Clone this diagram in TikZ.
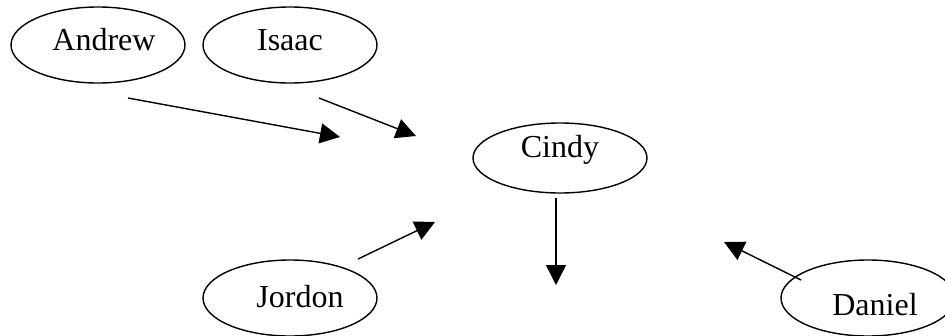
\documentclass[tikz,border=0pt]{standalone}
\usepackage{fontspec}
\setmainfont{Liberation Serif}
\usetikzlibrary{shapes.geometric,arrows.meta}
\begin{document}
\begin{tikzpicture}[x=1pt,y=-1pt,
  oval/.style={draw,ellipse,line width=1.4pt,minimum width=174pt,minimum height=76pt,inner sep=0pt},
  lbl/.style={anchor=base,inner sep=0pt,font=\fontsize{32}{36}\selectfont},
  arr/.style={line width=1.4pt,-{Triangle[length=20pt,width=20pt]}}]
\useasboundingbox (0,0) rectangle (945,335);
% ellipses
\node[oval] (andrew) at (98,45) {};
\node[oval] (isaac) at (290,45) {};
\node[oval,minimum height=70pt] (cindy) at (560,158) {};
\node[oval] (jordon) at (290,298) {};
\node[oval] (daniel) at (868,298) {};
% labels
\node[lbl] (tandrew) at (104,50) {Andrew};
\node[lbl] (tisaac) at (290,50) {Isaac};
\node[lbl] (tcindy) at (560,157) {Cindy};
\node[lbl] (tjordon) at (300,307) {Jordon};
\node[lbl] (tdaniel) at (875,315) {Daniel};
% arrow end points
\coordinate (a1) at (128,98);  \coordinate (a2) at (340,137);
\coordinate (i1) at (319,98);  \coordinate (i2) at (416,136);
\coordinate (j1) at (358,259); \coordinate (j2) at (435,222);
\coordinate (c1) at (556,198); \coordinate (c2) at (556,285);
\coordinate (d1) at (801,280); \coordinate (d2) at (724,242);
\draw[arr] (a1) -- (a2);
\draw[arr] (i1) -- (i2);
\draw[arr] (j1) -- (j2);
\draw[arr] (c1) -- (c2);
\draw[arr] (d1) -- (d2);
\end{tikzpicture}
\end{document}
